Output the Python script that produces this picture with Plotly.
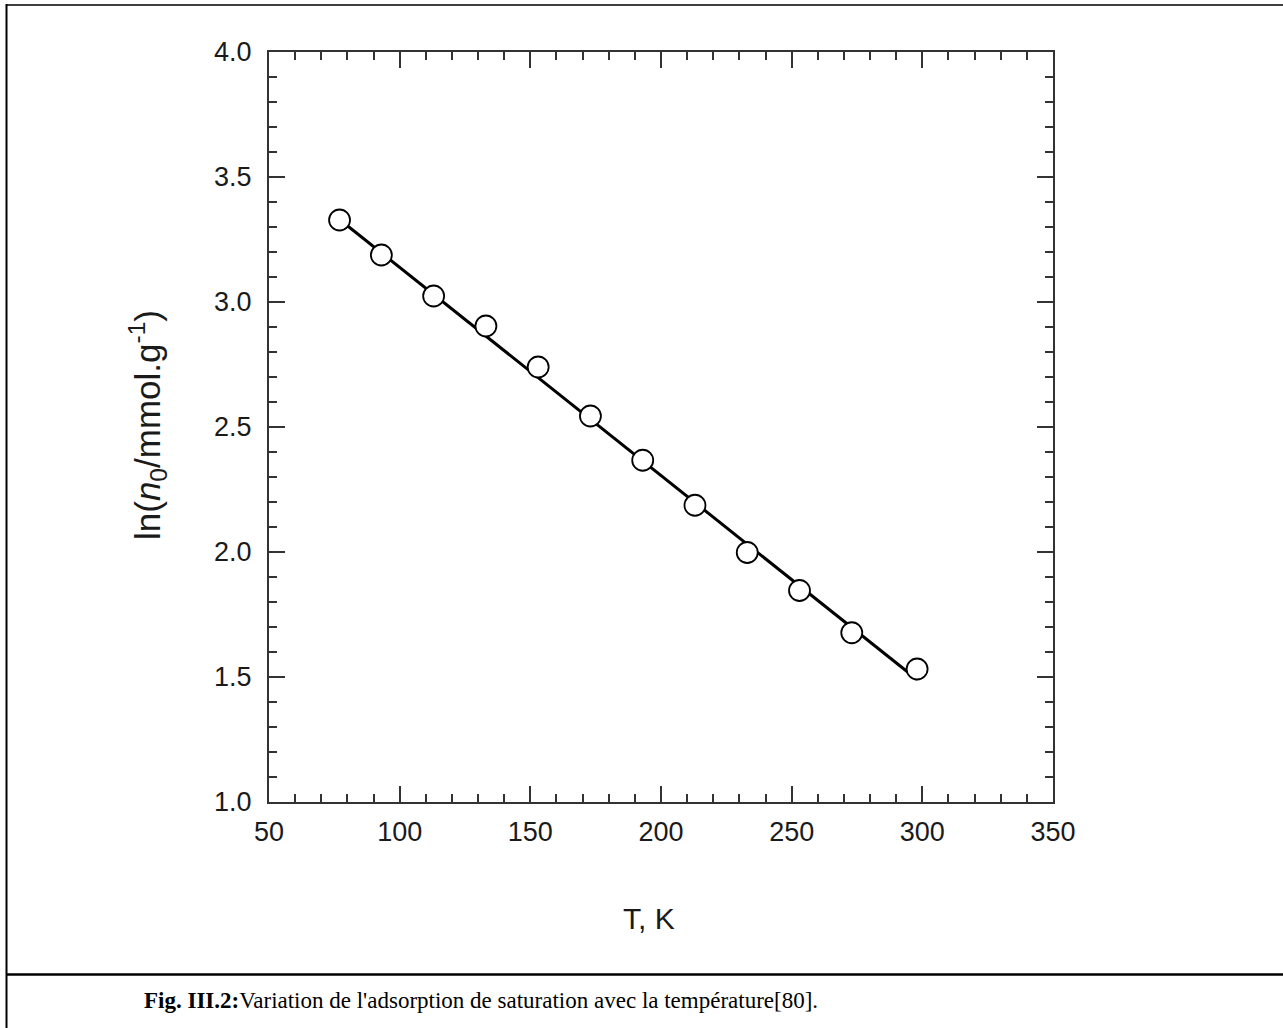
import plotly.graph_objects as go

# Data
T_K = [77, 93, 113, 133, 153, 173, 193, 213, 233, 253, 273, 298]
ln_n0 = [3.328, 3.188, 3.024, 2.904, 2.740, 2.544, 2.367, 2.187, 1.998, 1.846, 1.677, 1.532]
fit_T = [77, 298]
fit_ln_n0 = [3.33, 1.49]

x_ticks = [50, 100, 150, 200, 250, 300, 350]
y_ticks = [1.0, 1.5, 2.0, 2.5, 3.0, 3.5, 4.0]

W, H = 1283, 1028
L, R, TOP, BOT = 269, 1053, 52, 802
PW, PH = R - L, BOT - TOP


def px(x):
    return (x - L) / PW


def py(y):
    return (BOT - y) / PH


fig = go.Figure()
fig.add_trace(go.Scatter(x=fit_T, y=fit_ln_n0, mode="lines",
                         line=dict(color="black", width=3), showlegend=False))
fig.add_trace(go.Scatter(x=T_K, y=ln_n0, mode="markers",
                         marker=dict(symbol="circle", size=21, color="white",
                                     line=dict(color="black", width=1.8)),
                         showlegend=False))

axis_font = dict(family="Liberation Sans, Arial", size=27, color="#1a1a1a")
common = dict(showgrid=False, zeroline=False, showline=True, linecolor="#333333",
              linewidth=2, mirror="ticks", ticks="inside", ticklen=16, tickwidth=2,
              tickcolor="#333333", tickfont=axis_font)

fig.update_xaxes(range=[50, 350], tickvals=x_ticks, ticktext=[str(v) for v in x_ticks],
                 minor=dict(dtick=10, ticks="inside", ticklen=8, tickwidth=2, tickcolor="#333333"),
                 ticklabelstandoff=5, **common)
fig.update_yaxes(range=[1.0, 4.0], tickvals=y_ticks, ticktext=[f"{v:.1f}" for v in y_ticks],
                 minor=dict(dtick=0.1, ticks="inside", ticklen=8, tickwidth=2, tickcolor="#333333"),
                 ticklabelstandoff=10, **common)

annotations = [
    dict(text="T, K", x=px(649), y=py(918), xref="paper", yref="paper", showarrow=False,
         font=dict(family="Liberation Sans, Arial", size=30, color="#1a1a1a"),
         xanchor="center", yanchor="middle"),
    dict(text="ln(<i>n</i><sub>0</sub>/mmol.g<sup>-1</sup>)", x=px(148), y=py(425),
         xref="paper", yref="paper", showarrow=False, textangle=-90,
         font=dict(family="Liberation Sans, Arial", size=35, color="#1a1a1a"),
         xanchor="center", yanchor="middle"),
    dict(text="<b>Fig. III.2:</b>Variation de l'adsorption de saturation avec la température[80].",
         x=px(481), y=py(1000), xref="paper", yref="paper", showarrow=False,
         font=dict(family="Liberation Serif, Times New Roman", size=23, color="black"),
         xanchor="center", yanchor="middle"),
]

shapes = [
    dict(type="line", xref="paper", yref="paper", x0=px(6), x1=px(1283), y0=py(5), y1=py(5),
         line=dict(color="black", width=1.5)),
    dict(type="line", xref="paper", yref="paper", x0=px(6.5), x1=px(6.5), y0=py(4), y1=py(1028),
         line=dict(color="black", width=2)),
    dict(type="line", xref="paper", yref="paper", x0=px(6), x1=px(1283), y0=py(974.5), y1=py(974.5),
         line=dict(color="black", width=2.5)),
]

fig.update_layout(width=W, height=H, margin=dict(l=L, r=W - R, t=TOP, b=H - BOT, pad=0),
                  plot_bgcolor="white", paper_bgcolor="white",
                  annotations=annotations, shapes=shapes)

fig.write_html("out.html", config={"displayModeBar": False},
               post_script="document.body.style.margin='0';")
